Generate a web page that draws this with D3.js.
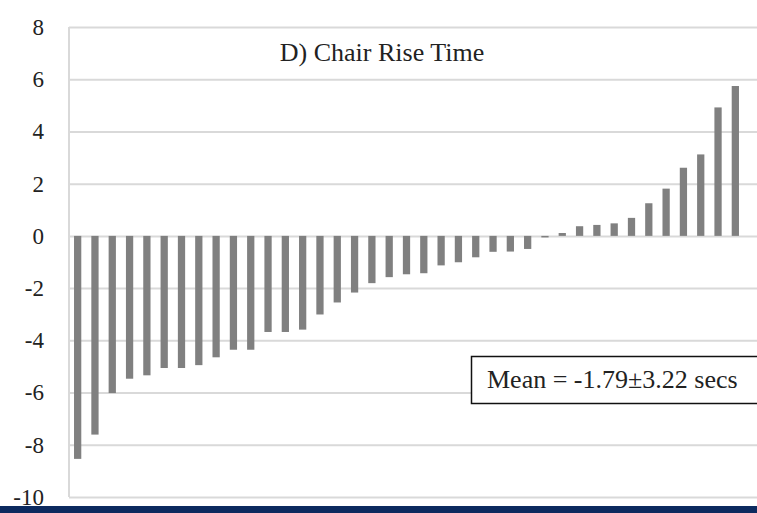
<!DOCTYPE html>
<html>
<head>
<meta charset="utf-8">
<script src="https://cdn.jsdelivr.net/npm/d3@7"></script>
<style>
  html, body { margin: 0; padding: 0; background: #fff; }
  svg { display: block; }
  svg text { font-family: "Liberation Serif", "Times New Roman", "DejaVu Serif", serif; }
</style>
</head>
<body>
<svg id="chart" width="757" height="513"></svg>
<script>
// Change in chair rise time per participant (secs), sorted ascending
const participants = d3.range(1, 40).map(String);
const changeSecs = [
  -8.54, -7.61, -6.02, -5.47, -5.34, -5.06, -5.06, -4.95, -4.65, -4.36,
  -4.36, -3.68, -3.68, -3.59, -3.01, -2.55, -2.17, -1.81, -1.58, -1.47,
  -1.43, -1.13, -1.01, -0.82, -0.61, -0.60, -0.50, -0.06, 0.11, 0.37,
  0.42, 0.48, 0.69, 1.25, 1.81, 2.61, 3.12, 4.92, 5.74
];
const yTicks = [-10, -8, -6, -4, -2, 0, 2, 4, 6, 8];
const chartTitle = "D) Chair Rise Time";
const meanLabel = "Mean = -1.79\u00b13.22 secs";

const svg = d3.select("#chart");
const W = 757, H = 513;
const plotLeft = 69, plotRight = 744, plotTop = 27, plotBottom = 497;

const x = d3.scaleBand()
  .domain(participants)
  .range([plotLeft, plotRight])
  .paddingInner(0.58)
  .paddingOuter(0.29);

const y = d3.scaleLinear().domain([-10, 8]).range([plotBottom, plotTop]);

// gridlines and value labels
const yAxis = d3.axisLeft(y)
  .tickValues(yTicks)
  .tickSize(-(W - plotLeft))
  .tickFormat(d => String(d))
  .tickPadding(25);

const gAxis = svg.append("g")
  .attr("transform", `translate(${plotLeft},0)`)
  .call(yAxis)
  .attr("font-family", null);
gAxis.select(".domain").remove();
gAxis.selectAll(".tick line")
  .attr("stroke", "#d9d9d9")
  .attr("stroke-width", 2);
gAxis.selectAll(".tick text")
  .attr("fill", "#222")
  .style("font-size", "23px")
  .attr("dy", "0.32em");

// left plot border
svg.append("line")
  .attr("x1", plotLeft).attr("x2", plotLeft)
  .attr("y1", plotTop).attr("y2", plotBottom)
  .attr("stroke", "#d9d9d9").attr("stroke-width", 2);

// bars
svg.append("g")
  .selectAll("rect")
  .data(changeSecs)
  .join("rect")
  .attr("x", (d, i) => x(participants[i]))
  .attr("width", x.bandwidth())
  .attr("y", d => y(Math.max(0, d)))
  .attr("height", d => Math.abs(y(d) - y(0)))
  .attr("fill", "#808080");

// title
svg.append("text")
  .attr("x", 382)
  .attr("y", 61)
  .attr("text-anchor", "middle")
  .style("font-size", "26px")
  .attr("fill", "#222")
  .text(chartTitle);

// mean annotation box
svg.append("rect")
  .attr("x", 471.5).attr("y", 356.5)
  .attr("width", 300).attr("height", 47)
  .attr("fill", "#fff")
  .attr("stroke", "#111").attr("stroke-width", 1.5);
svg.append("text")
  .attr("x", 487)
  .attr("y", 388)
  .style("font-size", "26px")
  .attr("fill", "#222")
  .text(meanLabel);

// bottom band
svg.append("rect")
  .attr("x", 0).attr("y", 506)
  .attr("width", W).attr("height", H - 506)
  .attr("fill", "#0c2a5f");
</script>
</body>
</html>
